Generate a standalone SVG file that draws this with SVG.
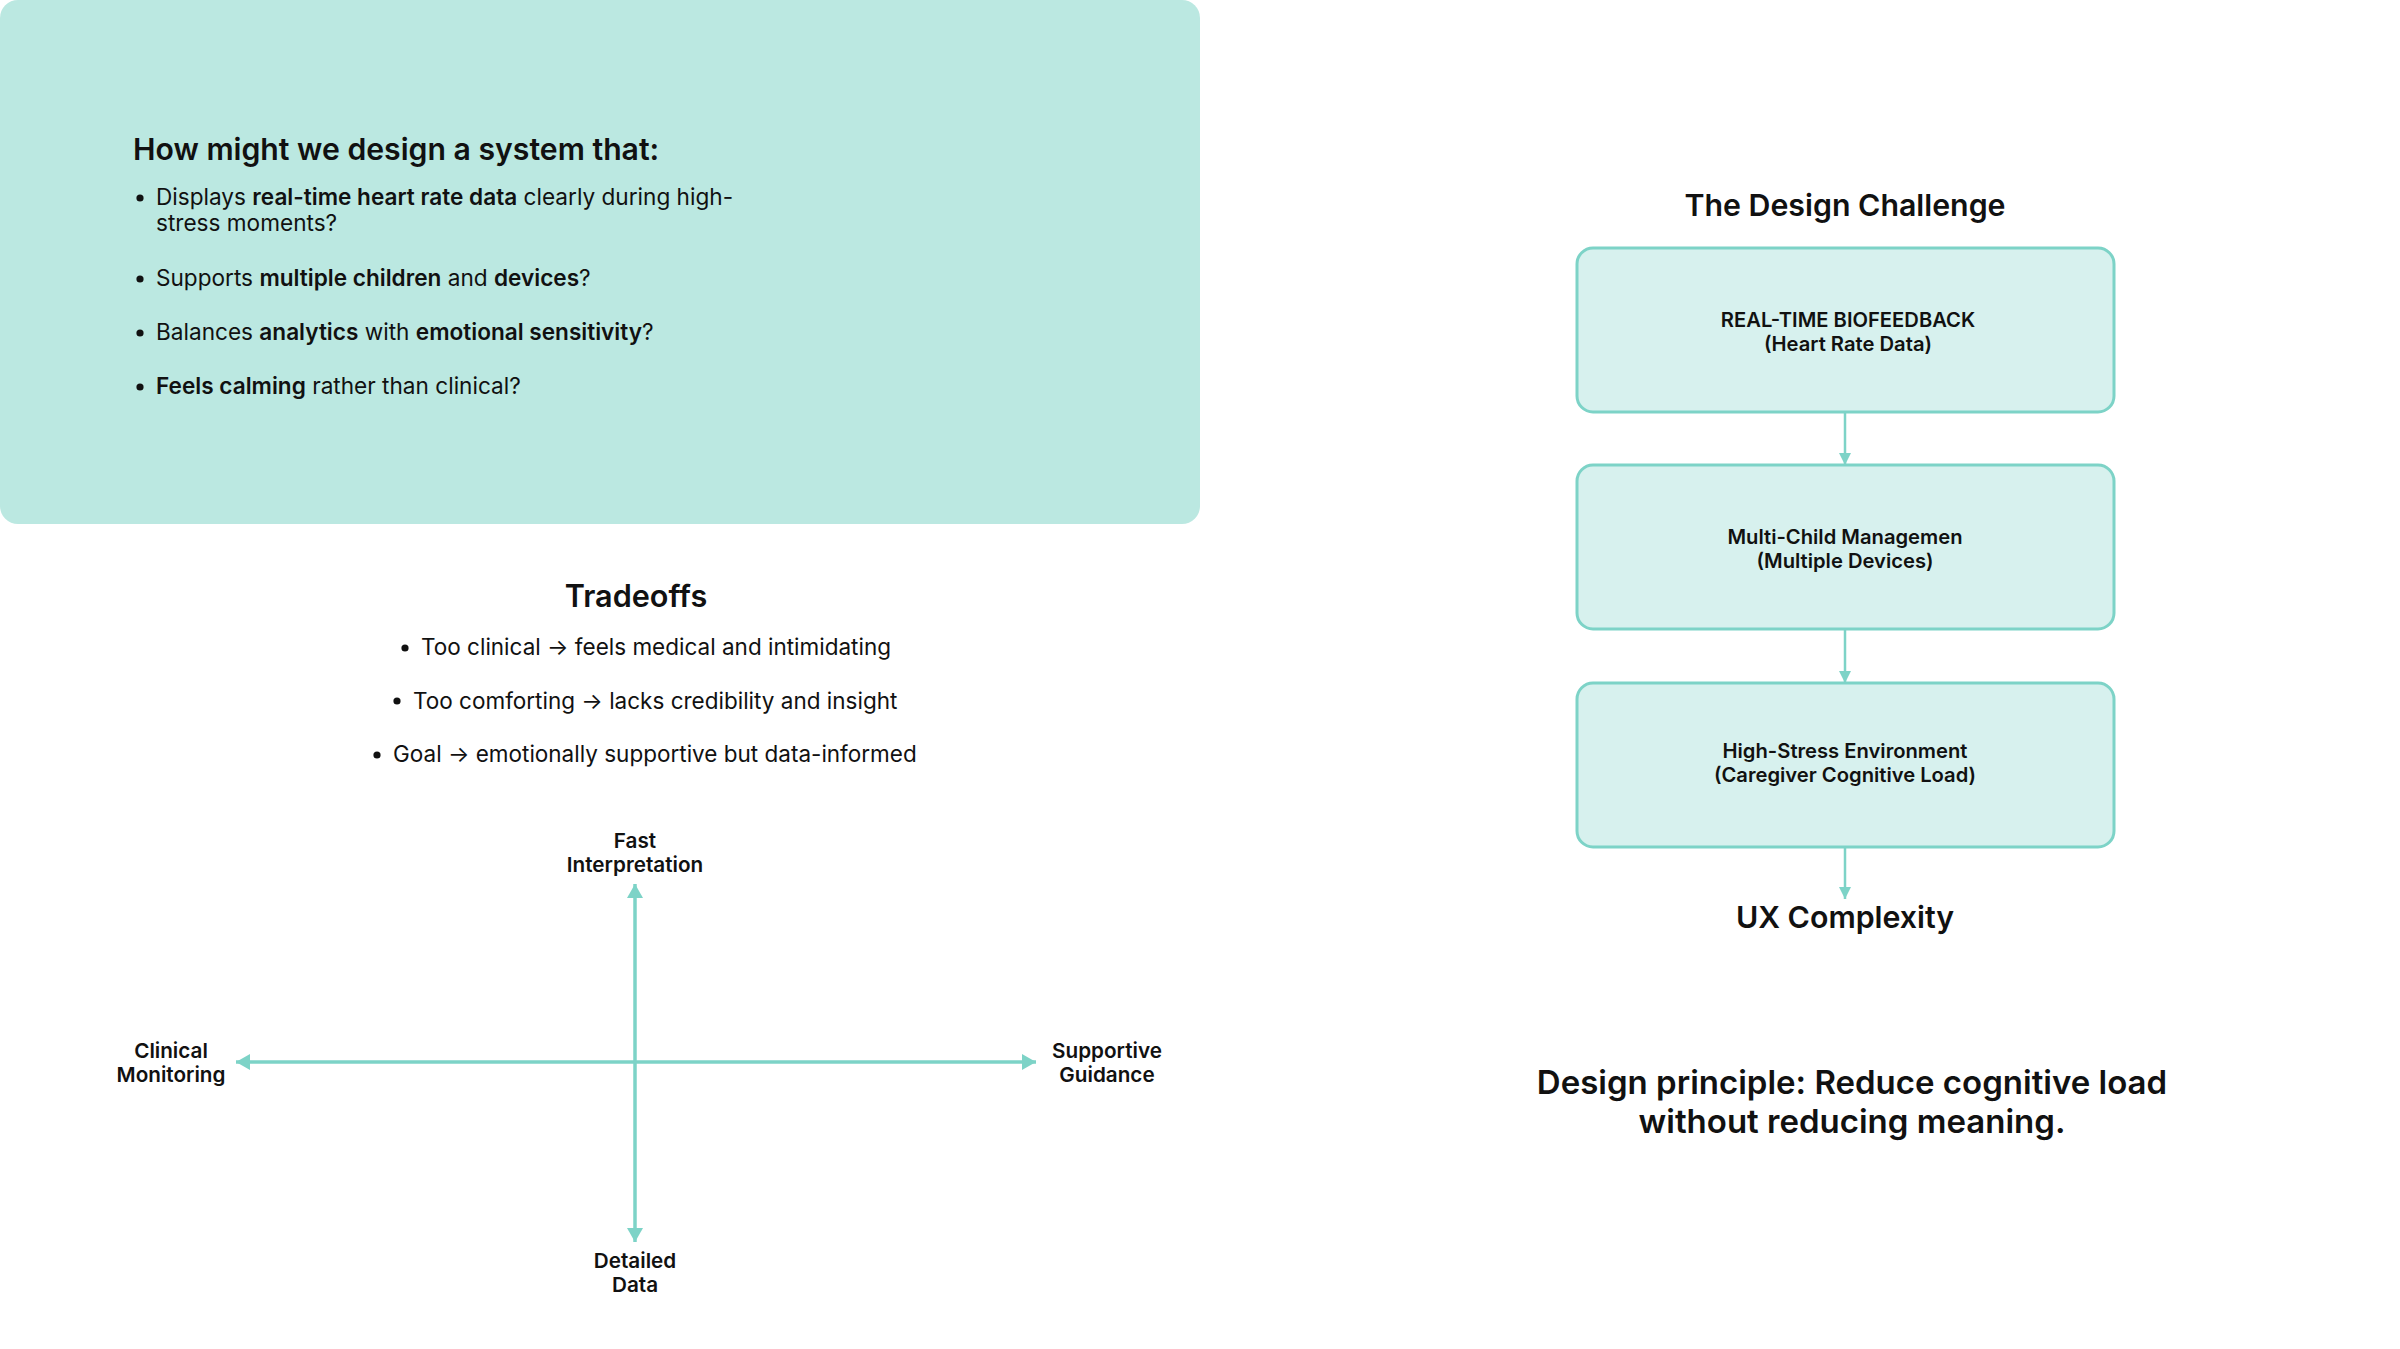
<svg xmlns="http://www.w3.org/2000/svg" width="2400" height="1349" viewBox="0 0 2400 1349">
<style>
text{font-family:Inter,"Noto Sans","Liberation Sans",sans-serif;fill:#111}
.h{font-size:30.2px;font-weight:600}
.b{font-size:22.6px;font-weight:400}
.b tspan.s{font-weight:600}
.t{font-size:22.5px;font-weight:400}
.lab{font-size:20.7px;font-weight:600;text-anchor:middle}
.box{fill:#D7F1EE;stroke:#7DD3C7;stroke-width:3}
.bt{font-size:20.2px;font-weight:600;text-anchor:middle}
.ttl{font-size:30.3px;font-weight:600;text-anchor:middle}
.ax{stroke:#7DD3C7;stroke-width:3.5;fill:none}
.cn{stroke:#7DD3C7;stroke-width:2.5;fill:none}
</style>
<defs>
<marker id="ah" markerUnits="userSpaceOnUse" markerWidth="16" markerHeight="18" refX="14" refY="9" orient="auto-start-reverse"><path d="M0,1 L14,9 L0,17 Z" fill="#7DD3C7"/></marker>
<marker id="ahs" markerUnits="userSpaceOnUse" markerWidth="14" markerHeight="14" refX="12" refY="7" orient="auto"><path d="M0,1 L12,7 L0,13 Z" fill="#7DD3C7"/></marker>
</defs>
<g id="panel">
<rect x="0" y="0" width="1200" height="524" rx="18" fill="#BBE8E1"/>
<text class="h" x="133" y="160">How might we design a system that:</text>
<g>
<circle cx="140" cy="198" r="3.6" fill="#111"/>
<text class="b" x="156" y="205">Displays <tspan class="s">real-time heart rate data</tspan> clearly during high-</text>
<text class="b" x="156" y="231">stress moments?</text>
<circle cx="140" cy="279" r="3.6" fill="#111"/>
<text class="b" x="156" y="286">Supports <tspan class="s">multiple children</tspan> and <tspan class="s">devices</tspan>?</text>
<circle cx="140" cy="333" r="3.6" fill="#111"/>
<text class="b" x="156" y="340">Balances <tspan class="s">analytics</tspan> with <tspan class="s">emotional sensitivity</tspan>?</text>
<circle cx="140" cy="387" r="3.6" fill="#111"/>
<text class="b" x="156" y="394"><tspan class="s">Feels calming</tspan> rather than clinical?</text>
</g>
</g>
<g id="tradeoffs">
<text class="ttl" x="636" y="607" style="font-size:30.6px">Tradeoffs</text>
<circle cx="405" cy="648" r="3.6" fill="#111"/>
<text class="t" x="421" y="655">Too clinical → feels medical and intimidating</text>
<circle cx="397" cy="701" r="3.6" fill="#111"/>
<text class="t" x="413" y="709">Too comforting → lacks credibility and insight</text>
<circle cx="377" cy="755" r="3.6" fill="#111"/>
<text class="t" x="393" y="762">Goal → emotionally supportive but data-informed</text>
</g>
<g id="quadrant-labels">
<g id="top-label"><text class="lab" x="635" y="848">Fast</text><text class="lab" x="635" y="872">Interpretation</text></g>
<g id="left-label"><text class="lab" x="171" y="1058">Clinical</text><text class="lab" x="171" y="1082">Monitoring</text></g>
<g id="right-label"><text class="lab" x="1107" y="1058">Supportive</text><text class="lab" x="1107" y="1082">Guidance</text></g>
<g id="bottom-label"><text class="lab" x="635" y="1268">Detailed</text><text class="lab" x="635" y="1292">Data</text></g>
</g>
<g id="axes">
<line class="ax" x1="635" y1="1062" x2="635" y2="884" marker-end="url(#ah)"/>
<line class="ax" x1="635" y1="1062" x2="635" y2="1242" marker-end="url(#ah)"/>
<line class="ax" x1="635" y1="1062" x2="236" y2="1062" marker-end="url(#ah)"/>
<line class="ax" x1="635" y1="1062" x2="1036" y2="1062" marker-end="url(#ah)"/>
</g>
<text class="ttl" x="1845" y="216">The Design Challenge</text>
<g id="node1">
<rect class="box" x="1577" y="248" width="537" height="164" rx="16"/>
<text class="bt" x="1848" y="327">REAL-TIME BIOFEEDBACK</text>
<text class="bt" x="1848" y="351">(Heart Rate Data)</text>
</g>
<g id="node2">
<rect class="box" x="1577" y="465" width="537" height="164" rx="16"/>
<text class="bt" x="1845" y="544">Multi-Child Managemen</text>
<text class="bt" x="1845" y="568">(Multiple Devices)</text>
</g>
<g id="node3">
<rect class="box" x="1577" y="683" width="537" height="164" rx="16"/>
<text class="bt" x="1845" y="758">High-Stress Environment</text>
<text class="bt" x="1845" y="782">(Caregiver Cognitive Load)</text>
</g>
<g id="node4">
<text class="ttl" x="1845" y="928">UX Complexity</text>
</g>
<g id="connectors">
<line class="cn" x1="1845" y1="412" x2="1845" y2="465" marker-end="url(#ahs)"/>
<line class="cn" x1="1845" y1="629" x2="1845" y2="683" marker-end="url(#ahs)"/>
<line class="cn" x1="1845" y1="847" x2="1845" y2="899" marker-end="url(#ahs)"/>
</g>
<g id="principle">
<text class="ttl" x="1852" y="1094" style="font-size:33px">Design principle: Reduce cognitive load</text>
<text class="ttl" x="1852" y="1133" style="font-size:33px">without reducing meaning.</text>
</g>
</svg>
